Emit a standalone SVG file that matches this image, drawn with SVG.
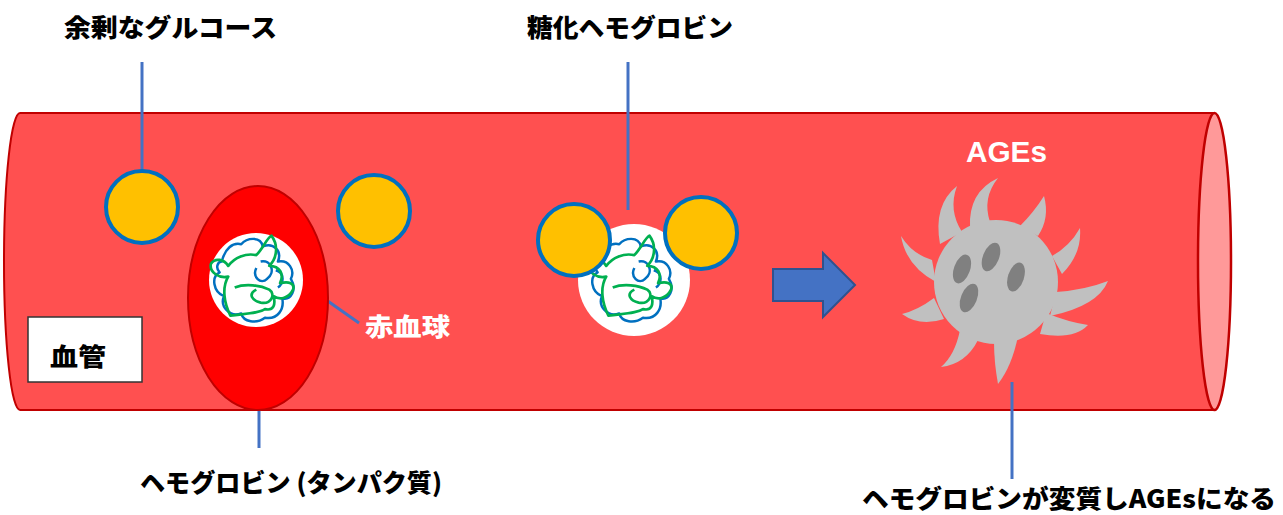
<svg xmlns="http://www.w3.org/2000/svg" xmlns:xlink="http://www.w3.org/1999/xlink" width="1283" height="515" viewBox="0 0 1283 515">
  <style>
    .lbl { font-family: "Noto Sans CJK JP", "Liberation Sans", sans-serif; font-weight: 900; font-size: 25px; fill: #000; }
    .wlbl { font-family: "Noto Sans CJK JP", "Liberation Sans", sans-serif; font-weight: 900; font-size: 25px; fill: #fff; }
    .ages { font-family: "Liberation Sans", Arial, sans-serif; font-weight: bold; font-size: 29px; fill: #fff; }
    .lead { stroke: #4472C4; stroke-width: 3; fill: none; }
    .glucose { fill: #FFC000; stroke: #0070C0; stroke-width: 4; }
    .hbBlue { fill: none; stroke: #0070C0; stroke-width: 2.3; stroke-linejoin: round; }
    .hbGreen { fill: none; stroke: #00B050; stroke-width: 2.5; stroke-linejoin: round; }
    .spike { fill: #C0C0C0; }
    .spot { fill: #808080; }
  </style>
  <defs>
    <!-- tangled hemoglobin protein chain, centred on 0,0 -->
    <g id="hb">
      <path class="hbBlue" d="M -28,-18 C -25,-30 -18,-36 -10,-34 C -5,-40 8,-42 10,-32 C 20,-36 28,-28 24,-18 C 34,-20 40,-10 36,-2 C 42,8 36,18 28,16 C 30,26 24,36 12,34 C 4,40 -8,38 -10,30 C -20,34 -30,24 -26,14 C -36,10 -38,-4 -30,-8 C -34,-12 -32,-18 -28,-18 Z M 8,-18 C 18,-20 22,-8 14,-2 C 8,4 0,-4 4,-12 M 22,-10 C 30,-8 30,2 24,6"/>
      <path class="hbGreen" d="M -38,-16 C -34,-22 -26,-20 -22,-14 C -16,-22 -6,-26 4,-24 C 10,-30 14,-40 18,-42 C 24,-34 24,-22 16,-14 C 26,-14 30,-6 26,2 C 34,0 40,2 38,8 C 34,16 26,18 20,14 C 22,22 20,28 12,26 C 6,30 -4,30 -20,32 C -26,20 -28,6 -22,-4 C -30,-2 -40,-8 -38,-16 Z M -16,6 C -6,2 8,4 16,8 C 22,12 18,22 8,20 C 0,18 -4,12 4,8"/>
    </g>
  </defs>

  <!-- blood vessel cylinder -->
  <g id="vessel">
    <path d="M 20,113 H 1214 V 410 H 20 A 16,148.5 0 0 1 20,113 Z" fill="#FF5050" stroke="#C00000" stroke-width="2"/>
    <ellipse cx="1214.5" cy="261.5" rx="16.5" ry="148.5" fill="#FF9999" stroke="#C00000" stroke-width="2.5"/>
  </g>

  <g id="vessel-label">
    <rect x="28" y="317" width="114" height="65" fill="#fff" stroke="#333" stroke-width="1.5"/>
    <text class="lbl" x="50" y="366" font-size="27" textLength="56" lengthAdjust="spacingAndGlyphs">血管</text>
  </g>

  <!-- connectors / leader lines -->
  <g id="connectors">
    <line class="lead" x1="142" y1="62" x2="142" y2="171"/>
    <line class="lead" x1="628" y1="62" x2="628" y2="210"/>
    <line class="lead" x1="259" y1="326" x2="259" y2="448"/>
    <line class="lead" x1="322" y1="297" x2="359" y2="323"/>
    <line class="lead" x1="1012" y1="382" x2="1012" y2="479"/>
    <path d="M 773,269 H 823 V 253 L 855,285 L 823,317 V 301 H 773 Z" fill="#4472C4" stroke="#2F528F" stroke-width="2"/>
  </g>

  <g id="glucose-1"><circle class="glucose" cx="142" cy="207" r="36"/></g>
  <g id="glucose-2"><circle class="glucose" cx="374" cy="211" r="36"/></g>

  <!-- red blood cell with hemoglobin -->
  <g id="rbc">
    <ellipse cx="258" cy="298" rx="70" ry="112" fill="#FF0000" stroke="#C00000" stroke-width="2"/>
    <circle cx="256" cy="280" r="47" fill="#fff"/>
    <use href="#hb" xlink:href="#hb" transform="translate(252,281) scale(1.08)"/>
  </g>

  <!-- glycated hemoglobin -->
  <g id="glycated-hb">
    <circle cx="634" cy="280" r="56" fill="#fff"/>
    <use href="#hb" xlink:href="#hb" transform="translate(630,281) scale(1.08)"/>
    <circle class="glucose" cx="574" cy="240" r="36"/>
    <circle class="glucose" cx="701" cy="233" r="36"/>
  </g>

  <!-- AGEs particle -->
  <g id="ages">
    <path class="spike" d="M 940,244 Q 933,205 957,186 Q 948,210 962,232 Z"/>
    <path class="spike" d="M 970,228 Q 968,192 998,178 Q 982,198 990,222 Z"/>
    <path class="spike" d="M 1020,226 Q 1034,212 1044,196 Q 1050,218 1038,236 Z"/>
    <path class="spike" d="M 1052,256 Q 1070,246 1080,228 Q 1082,254 1062,274 Z"/>
    <path class="spike" d="M 1056,292 Q 1085,290 1108,281 Q 1098,306 1050,316 Z"/>
    <path class="spike" d="M 1046,313 Q 1068,322 1088,325 Q 1074,340 1040,334 Z"/>
    <path class="spike" d="M 1018,336 Q 1012,366 998,384 Q 994,362 994,342 Z"/>
    <path class="spike" d="M 960,330 Q 955,355 941,367 Q 966,364 978,340 Z"/>
    <path class="spike" d="M 934,298 Q 918,310 902,314 Q 920,327 944,319 Z"/>
    <path class="spike" d="M 932,260 Q 912,254 901,236 Q 906,266 936,282 Z"/>
    <circle cx="996" cy="282" r="62" fill="#C0C0C0"/>
    <ellipse class="spot" cx="962" cy="269" rx="8" ry="15" transform="rotate(20 962 269)"/>
    <ellipse class="spot" cx="991" cy="257" rx="8" ry="15" transform="rotate(22 991 257)"/>
    <ellipse class="spot" cx="1016" cy="277" rx="8" ry="15" transform="rotate(18 1016 277)"/>
    <ellipse class="spot" cx="969" cy="298" rx="8" ry="15" transform="rotate(22 969 298)"/>
    <text class="ages" x="966" y="162" textLength="81" lengthAdjust="spacingAndGlyphs">AGEs</text>
  </g>

  <!-- labels -->
  <g id="labels">
    <text class="lbl" x="64" y="37" textLength="213" lengthAdjust="spacingAndGlyphs">余剰なグルコース</text>
    <text class="lbl" x="527" y="37" textLength="206" lengthAdjust="spacingAndGlyphs">糖化ヘモグロビン</text>
    <text class="wlbl" x="365" y="336" textLength="85" lengthAdjust="spacingAndGlyphs">赤血球</text>
    <text class="lbl" x="140" y="492" textLength="302" lengthAdjust="spacingAndGlyphs">ヘモグロビン (タンパク質)</text>
    <text class="lbl" x="862" y="508" font-size="24" textLength="414" lengthAdjust="spacingAndGlyphs">ヘモグロビンが変質しAGEsになる</text>
  </g>
</svg>
